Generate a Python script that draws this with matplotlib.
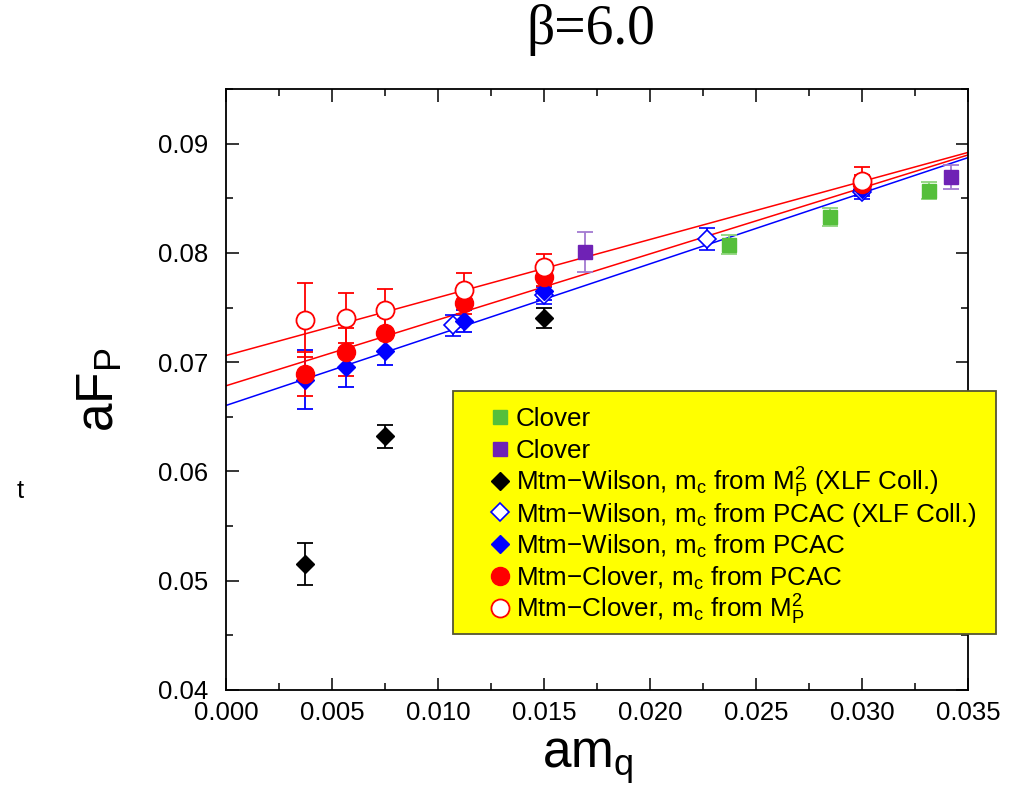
import numpy as np
import matplotlib
matplotlib.use("Agg")
import matplotlib.pyplot as plt
from matplotlib.patches import Rectangle

plt.rcParams['font.family'] = ['Liberation Sans', 'DejaVu Sans']
plt.rcParams['mathtext.fontset'] = 'custom'
plt.rcParams['mathtext.rm'] = 'Liberation Sans'
plt.rcParams['mathtext.it'] = 'Liberation Sans'

# quark masses and pseudoscalar decay constants, beta = 6.0
mq_clover_g = [0.02374, 0.02849, 0.03317]
fp_clover_g = [0.08077, 0.08327, 0.08571]
err_clover_g = [0.0009, 0.00085, 0.0008]

mq_clover_p = [0.01693, 0.03418]
fp_clover_p = [0.08007, 0.08699]
err_clover_p = [0.0018, 0.0011]

mq_wil_mp = [0.00375, 0.0075, 0.0150]
fp_wil_mp = [0.05152, 0.0632, 0.07406]
err_wil_mp = [0.0019, 0.00105, 0.0009]

mq_wil_xlf = [0.0107, 0.0150, 0.0227, 0.0300]
fp_wil_xlf = [0.07336, 0.07611, 0.08129, 0.08557]
err_wil_xlf = [0.0010, 0.0008, 0.0010, 0.0006]

mq_tm = [0.00375, 0.00565, 0.0075, 0.01125, 0.0150, 0.0300]
fp_wil_pcac = [0.0684, 0.06954, 0.07101, 0.07375, 0.07656, 0.08589]
err_wil_pcac = [0.0027, 0.0018, 0.0013, 0.0010, 0.0009, 0.0007]
fp_clv_pcac = [0.06894, 0.07092, 0.07266, 0.0754, 0.07778, 0.08633]
err_clv_pcac = [0.0020, 0.0022, 0.0016, 0.0010, 0.0008, 0.0008]
fp_clv_mp = [0.07388, 0.07406, 0.07482, 0.07665, 0.07869, 0.08662]
err_clv_mp = [0.0034, 0.0023, 0.0019, 0.0015, 0.0012, 0.0012]

# linear fits: intercept, slope
fit_wil_pcac = (0.06604, 0.648)
fit_clv_pcac = (0.06784, 0.6036)
fit_clv_mp = (0.07061, 0.531)

green, purple = '#55bf3b', '#6f22b5'

# marker style per series, shared by the plot and the key
sty_g = dict(marker='s', ms=10, color=green, mec=green)
sty_p = dict(marker='s', ms=10, color=purple, mec=purple)
sty_k = dict(marker='D', ms=9, color='black')
sty_bo = dict(marker='D', ms=9, color='blue', mfc='white', mew=1.2)
sty_bf = dict(marker='D', ms=9, color='blue')
sty_rf = dict(marker='o', ms=13, color='red')
sty_ro = dict(marker='o', ms=13, color='red', mfc='white', mew=1.3)

fig = plt.figure(figsize=(10.23, 7.92), dpi=100)
ax = fig.add_axes([0.2209, 0.1288, 0.9462 - 0.2209, 0.8876 - 0.1288])

xfit = np.array([0.0, 0.035])
for (b, m), c in [(fit_clv_mp, 'red'), (fit_clv_pcac, 'red'), (fit_wil_pcac, 'blue')]:
    ax.plot(xfit, b + m * xfit, color=c, lw=1.1, zorder=2)

eb = dict(capsize=6, elinewidth=1.3, capthick=1.3, linestyle='none', zorder=3)
ax.errorbar(mq_clover_g, fp_clover_g, yerr=err_clover_g, ecolor='#8fd67d', **sty_g, **eb)
ax.errorbar(mq_clover_p, fp_clover_p, yerr=err_clover_p, ecolor='#a27ad1', **sty_p, **eb)
ax.errorbar(mq_wil_mp, fp_wil_mp, yerr=err_wil_mp, **sty_k, **eb)
ax.errorbar(mq_wil_xlf, fp_wil_xlf, yerr=err_wil_xlf, **sty_bo, **eb)
ax.errorbar(mq_tm, fp_wil_pcac, yerr=err_wil_pcac, **sty_bf, **eb)
ax.errorbar(mq_tm, fp_clv_pcac, yerr=err_clv_pcac, **sty_rf, **eb)
ax.errorbar(mq_tm, fp_clv_mp, yerr=err_clv_mp, **sty_ro, **eb)

ax.set_xlim(0, 0.035)
ax.set_ylim(0.04, 0.095)
ax.set_xticks(np.arange(0, 0.0351, 0.005))
ax.set_xticks(np.arange(0, 0.0351, 0.0025), minor=True)
ax.set_yticks(np.arange(0.04, 0.0951, 0.01))
ax.set_yticks(np.arange(0.04, 0.0951, 0.005), minor=True)
ax.xaxis.set_major_formatter(matplotlib.ticker.FormatStrFormatter('%.3f'))
ax.yaxis.set_major_formatter(matplotlib.ticker.FormatStrFormatter('%.2f'))
ax.tick_params(which='both', direction='in', top=True, right=True, labelsize=18.5)
ax.tick_params(which='major', length=9, width=1.1)
ax.tick_params(which='minor', length=5, width=1.1)
ax.tick_params(axis='x', pad=8)
ax.tick_params(axis='y', pad=13)
for s in ax.spines.values():
    s.set_linewidth(1.3)

ax.set_xlabel(r'am$_\mathregular{q}$', fontsize=37, labelpad=8, x=0.488)
ax.set_ylabel(r'aF$_\mathregular{P}$', fontsize=37, labelpad=24)
fig.text(0.578, 0.944, 'β=6.0', fontsize=40, family='Liberation Serif',
         ha='center', va='baseline')
fig.text(0.0195, 0.38, 't', fontsize=18.5, ha='center', va='center')

# key box drawn on a pixel-coordinate overlay so it can stick out past the axes
ov = fig.add_axes([0, 0, 1, 1], zorder=5)
ov.set_xlim(0, 1023)
ov.set_ylim(792, 0)
ov.axis('off')

key_styles = [sty_g, sty_p, sty_k, sty_bo, sty_bf, sty_rf, sty_ro]
key_labels = [
    'Clover',
    'Clover',
    'Mtm\u2212Wilson, m$_\\mathregular{c}$ from M$_\\mathregular{P}^\\mathregular{2}$ (XLF Coll.)',
    'Mtm\u2212Wilson, m$_\\mathregular{c}$ from PCAC (XLF Coll.)',
    'Mtm\u2212Wilson, m$_\\mathregular{c}$ from PCAC',
    'Mtm\u2212Clover, m$_\\mathregular{c}$ from PCAC',
    'Mtm\u2212Clover, m$_\\mathregular{c}$ from M$_\\mathregular{P}^\\mathregular{2}$',
]
ov.add_patch(Rectangle((453, 391), 543, 243, facecolor='#ffff00',
                       edgecolor='#555533', lw=1.3))
for i, (st, lab) in enumerate(zip(key_styles, key_labels)):
    yc = 417 + 31.8 * i
    ov.plot([500], [yc], ls='none', **st)
    ov.text(516, yc + 9.5, lab, fontsize=18.75, ha='left', va='baseline')

fig.savefig('out.png', dpi=100)
